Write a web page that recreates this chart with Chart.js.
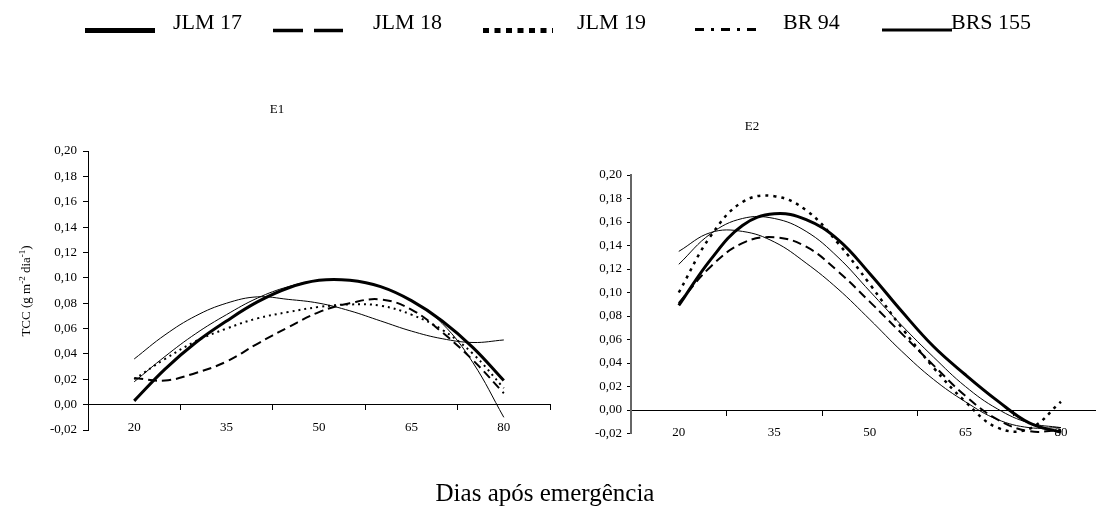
<!DOCTYPE html>
<html>
<head>
<meta charset="utf-8">
<script src="https://cdn.jsdelivr.net/npm/chart.js@4.4.1/dist/chart.umd.min.js"></script>
<style>
  body { margin: 0; background: #fff; }
  #wrap { position: relative; width: 1096px; height: 510px; overflow: hidden; }
  canvas { position: absolute; top: 0; }
  #e1 { left: 0; }
  #e2 { left: 560px; }
</style>
</head>
<body>
<div id="wrap">
  <canvas id="e1" width="1096" height="510"></canvas>
  <canvas id="e2" width="536" height="510"></canvas>
</div>
<script>
"use strict";

// dias após emergência
const days = [20, 25, 30, 35, 40, 45, 50, 55, 60, 65, 70, 75, 80];
const xLabels = [20, 35, 50, 65, 80];
const seriesNames = ['JLM 17', 'JLM 18', 'JLM 19', 'BR 94', 'BRS 155'];

// E1 - TCC (g m-2 dia-1)
const e1Jlm17 = [0.003, 0.028, 0.049, 0.066, 0.081, 0.092, 0.098, 0.098, 0.093, 0.082, 0.066, 0.045, 0.019];
const e1Jlm18 = [0.021, 0.019, 0.025, 0.034, 0.048, 0.061, 0.073, 0.080, 0.083, 0.075, 0.057, 0.035, 0.009];
const e1Jlm19 = [0.020, 0.036, 0.050, 0.060, 0.068, 0.073, 0.077, 0.079, 0.078, 0.071, 0.059, 0.040, 0.013];
const e1Br94 = [0.018, 0.038, 0.056, 0.071, 0.084, 0.093, 0.098, 0.098, 0.093, 0.082, 0.064, 0.033, -0.010];
const e1Brs155 = [0.036, 0.055, 0.070, 0.080, 0.085, 0.083, 0.080, 0.074, 0.066, 0.058, 0.052, 0.049, 0.051];

// E2
const e2Jlm17 = [0.089, 0.128, 0.157, 0.167, 0.162, 0.145, 0.116, 0.084, 0.054, 0.030, 0.008, -0.011, -0.019];
const e2Jlm18 = [0.091, 0.122, 0.142, 0.147, 0.139, 0.118, 0.092, 0.065, 0.038, 0.012, -0.008, -0.018, -0.017];
const e2Jlm19 = [0.100, 0.148, 0.177, 0.182, 0.170, 0.142, 0.107, 0.070, 0.036, 0.007, -0.015, -0.016, 0.007];
const e2Br94 = [0.124, 0.150, 0.163, 0.163, 0.152, 0.130, 0.101, 0.072, 0.045, 0.020, 0.001, -0.011, -0.015];
const e2Brs155 = [0.135, 0.151, 0.152, 0.143, 0.125, 0.103, 0.077, 0.050, 0.026, 0.007, -0.008, -0.015, -0.015];

const serif = '"Liberation Serif", "Times New Roman", serif';
Chart.defaults.font.family = serif;
Chart.defaults.color = '#000';

// line looks: in the plot and in the legend sample
const looks = [
    { width: 3, dash: [], legW: 5, legDash: [] },
    { width: 2, dash: [9, 5], legW: 3.5, legDash: [30, 11] },
    { width: 2, dash: [2, 4], legW: 5, legDash: [6, 5.5] },
    { width: 1, dash: [], legW: 3, legDash: [9, 7, 3, 7] },
    { width: 1, dash: [], legW: 3, legDash: [] }
];

function makeSets(list, dotW) {
    return list.map((vals, i) => ({
        label: seriesNames[i],
        data: days.map((d, k) => ({ x: d, y: vals[k] })),
        borderColor: '#000',
        borderWidth: i === 2 && dotW ? dotW : looks[i].width,
        borderDash: i === 2 && dotW ? [3, 5] : looks[i].dash,
        pointRadius: 0,
        tension: 0.4,
        fill: false
    }));
}

const fmt = (v) => Math.abs(v) < 1e-9 ? '0,00' : v.toFixed(2).replace('.', ',');

function scalesFor(yWidth, xMax, tickLen, tickPad, yLine) {
    return {
        x: {
            type: 'linear',
            position: { y: 0 },
            min: 12.5,
            max: xMax,
            afterBuildTicks: (scale) => {
                const t = [];
                xLabels.forEach(v => {
                    t.push({ value: v });
                    if (v + 7.5 <= xMax) t.push({ value: v + 7.5 });
                });
                scale.ticks = t;
            },
            ticks: {
                autoSkip: false,
                maxRotation: 0,
                minRotation: 0,
                padding: 10,
                font: { size: 13 },
                callback: (v) => xLabels.includes(v) ? String(v) : ''
            },
            grid: {
                drawOnChartArea: false,
                tickLength: 5,
                color: (ctx) => ctx.tick && xLabels.includes(ctx.tick.value) ? 'rgba(0,0,0,0)' : '#000'
            },
            border: { display: true, color: '#000', width: 1 }
        },
        y: {
            min: -0.02,
            max: 0.2,
            afterFit: (scale) => { scale.width = yWidth; },
            ticks: { stepSize: 0.02, padding: tickPad, font: { size: 13 }, callback: fmt },
            grid: { drawOnChartArea: false, tickLength: tickLen, color: '#000' },
            border: { display: true, color: yLine.color, width: yLine.width }
        }
    };
}

// legend, titles and axis names drawn on the page-wide canvas
const legendPlaces = [
    { x: 85, w: 70, y: 30.5, tx: 173 },
    { x: 273, w: 70, y: 30.5, tx: 373 },
    { x: 483, w: 70, y: 30.5, tx: 577 },
    { x: 695, w: 64, y: 29.5, tx: 783 },
    { x: 882, w: 70, y: 30, tx: 951 }
];

const pageText = {
    id: 'pageText',
    afterDraw(chart) {
        const ctx = chart.ctx;
        ctx.save();
        ctx.fillStyle = '#000';
        ctx.strokeStyle = '#000';

        // legend
        ctx.font = '22px ' + serif;
        ctx.textBaseline = 'alphabetic';
        ctx.textAlign = 'left';
        legendPlaces.forEach((p, i) => {
            ctx.lineWidth = looks[i].legW;
            ctx.setLineDash(looks[i].legDash);
            ctx.lineCap = 'butt';
            ctx.beginPath();
            ctx.moveTo(p.x, p.y);
            ctx.lineTo(p.x + p.w, p.y);
            ctx.stroke();
            ctx.fillText(seriesNames[i], p.tx, 28.5);
        });
        ctx.setLineDash([]);

        // panel names
        ctx.font = '13px ' + serif;
        ctx.textAlign = 'center';
        ctx.textBaseline = 'middle';
        ctx.fillText('E1', 277, 110);
        ctx.fillText('E2', 752, 127);

        // x axis name
        ctx.font = '25px ' + serif;
        ctx.textBaseline = 'alphabetic';
        ctx.fillText('Dias após emergência', 545, 501);

        // y axis name with superscripts
        ctx.translate(30, 291);
        ctx.rotate(-Math.PI / 2);
        const parts = [['TCC (g m', false], ['-2', true], [' dia', false], ['-1', true], [')', false]];
        const big = '13px ' + serif;
        const small = '9px ' + serif;
        let total = 0;
        parts.forEach(([s, sup]) => { ctx.font = sup ? small : big; total += ctx.measureText(s).width; });
        let cx = -total / 2;
        ctx.textAlign = 'left';
        parts.forEach(([s, sup]) => {
            ctx.font = sup ? small : big;
            ctx.fillText(s, cx, sup ? -5 : 0);
            cx += ctx.measureText(s).width;
        });
        ctx.restore();
    }
};

new Chart(document.getElementById('e1'), {
    type: 'line',
    data: { datasets: makeSets([e1Jlm17, e1Jlm18, e1Jlm19, e1Br94, e1Brs155], 0) },
    options: {
        responsive: false,
        animation: false,
        layout: { padding: { left: 0, top: 151, right: 546, bottom: 80 } },
        plugins: { legend: { display: false }, tooltip: { enabled: false } },
        scales: scalesFor(88, 87.5, 5, 6, { color: '#000', width: 1 })
    },
    plugins: [pageText]
});

new Chart(document.getElementById('e2'), {
    type: 'line',
    data: { datasets: makeSets([e2Jlm17, e2Jlm18, e2Jlm19, e2Br94, e2Brs155], 2.5) },
    options: {
        responsive: false,
        animation: false,
        layout: { padding: { left: 0, top: 175, right: 0, bottom: 76.5 } },
        plugins: { legend: { display: false }, tooltip: { enabled: false } },
        scales: scalesFor(71, 85.5, 4, 5, { color: '#666', width: 2 })
    }
});
</script>
</body>
</html>
